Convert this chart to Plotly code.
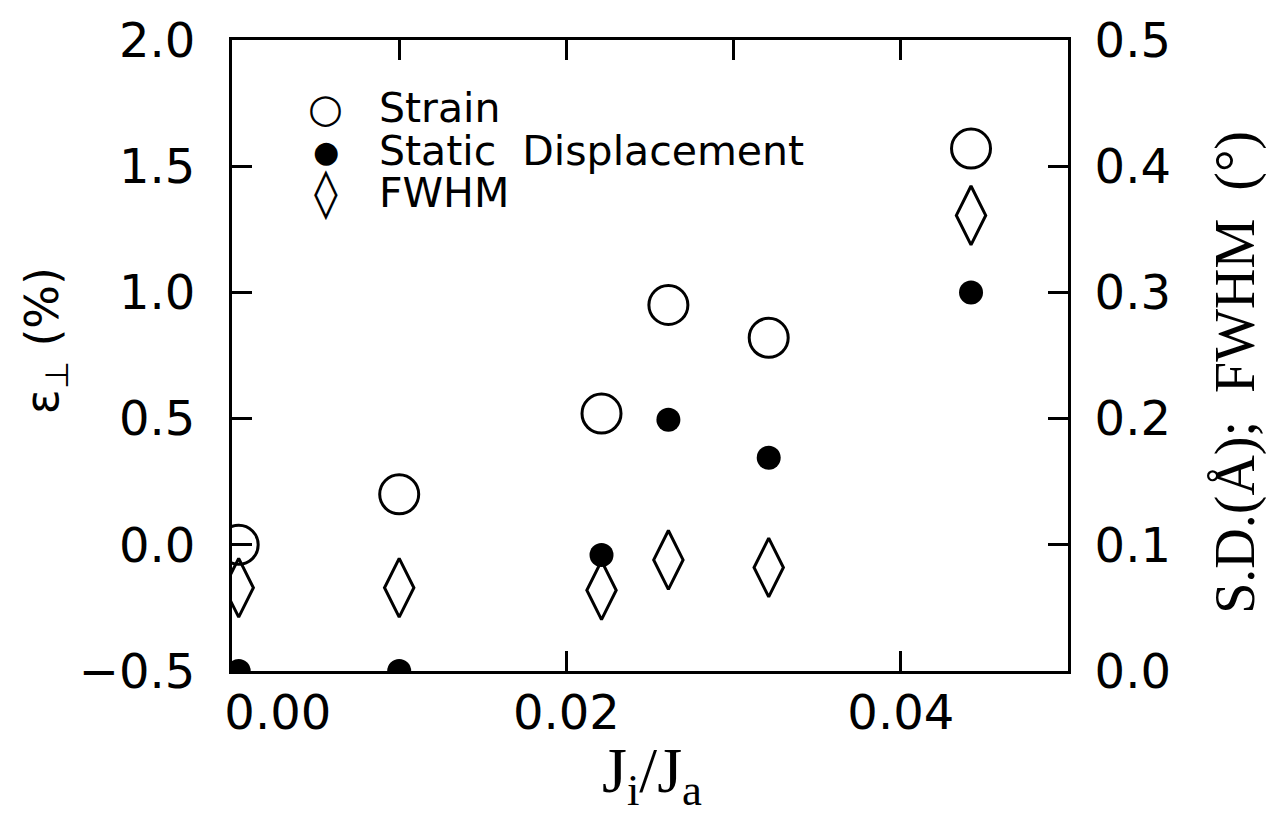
import plotly.graph_objects as go

# ---- data ----
ratio = [0.0004, 0.0100, 0.0221, 0.0261, 0.0321, 0.0442]          # J_i / J_a
strain = [0.00, 0.20, 0.52, 0.95, 0.82, 1.57]                      # epsilon_perp (%), left axis
static_disp = [0.000, 0.000, 0.092, 0.199, 0.169, 0.300]           # S.D. (Å), right axis
fwhm = [0.066, 0.066, 0.064, 0.088, 0.082, 0.361]                  # FWHM (deg), right axis

x_tickvals = [0.00, 0.02, 0.04]
x_ticktext = ["\u00a0\u00a0\u00a0\u00a0\u00a0\u00a00.00", "0.02", "0.04"]
y_left_tickvals = [-0.5, 0.0, 0.5, 1.0, 1.5, 2.0]
y_left_ticktext = ["\u22120.5", "0.0", "0.5", "1.0", "1.5", "2.0"]
y_right_tickvals = [0.0, 0.1, 0.2, 0.3, 0.4, 0.5]
y_right_ticktext = ["0.0", "0.1", "0.2", "0.3", "0.4", "0.5"]

legend_symbols = ["\u25CB", "\u25CF", "\u25CA"]
legend_symbol_sizes = [40, 30, 48]
legend_labels = ["Strain", "Static  Displacement", "FWHM"]

SANS = "DejaVu Sans"
SERIF = "Liberation Serif"
BLACK = "black"

fig = go.Figure()

fig.add_trace(go.Scatter(
    x=ratio, y=strain, mode="markers", name="Strain",
    marker=dict(symbol="circle-open", size=39, color=BLACK, line=dict(width=3, color=BLACK)),
    xaxis="x", yaxis="y", showlegend=False,
))
fig.add_trace(go.Scatter(
    x=ratio, y=static_disp, mode="markers", name="Static Displacement",
    marker=dict(symbol="circle", size=24, color=BLACK, line=dict(width=0)),
    xaxis="x", yaxis="y2", showlegend=False,
))
fig.add_trace(go.Scatter(
    x=ratio, y=fwhm, mode="markers", name="FWHM",
    marker=dict(symbol="diamond-tall-open", size=42, color=BLACK, line=dict(width=3, color=BLACK)),
    xaxis="x", yaxis="y2", showlegend=False,
))

axis_common = dict(
    showgrid=False, zeroline=False, showline=True, linecolor=BLACK, linewidth=3,
    ticks="inside", ticklen=20, tickwidth=3, tickcolor=BLACK,
)

fig.update_layout(
    width=1266, height=814,
    margin=dict(l=232, r=198, t=34, b=143),
    paper_bgcolor="white", plot_bgcolor="white",
    showlegend=False,
    xaxis=dict(
        range=[0.0, 0.05], tickvals=x_tickvals, ticktext=x_ticktext,
        tickfont=dict(family=SANS, size=48, color=BLACK), ticklabelstandoff=-3,
        **axis_common,
    ),
    xaxis2=dict(
        range=[0.0, 0.05], overlaying="x", side="top", dtick=0.01, tick0=0,
        showticklabels=False, matches="x",
        **axis_common,
    ),
    yaxis=dict(
        range=[-0.5, 2.0], tickvals=y_left_tickvals, ticktext=y_left_ticktext,
        tickfont=dict(family=SANS, size=48, color=BLACK), ticklabelstandoff=24,
        **axis_common,
    ),
    yaxis2=dict(
        range=[0.0, 0.5], overlaying="y", side="right",
        tickvals=y_right_tickvals, ticktext=y_right_ticktext,
        tickfont=dict(family=SANS, size=48, color=BLACK), ticklabelstandoff=14,
        **axis_common,
    ),
)

# dummy trace to activate top axis
fig.add_trace(go.Scatter(x=[None], y=[None], xaxis="x2", yaxis="y", showlegend=False, hoverinfo="skip"))

# legend (inside plot, top-left)
leg_y = [0.893, 0.824, 0.758]
for sym, ssz, lab, yy in zip(legend_symbols, legend_symbol_sizes, legend_labels, leg_y):
    fig.add_annotation(xref="paper", yref="paper", x=0.1124, y=yy, text=sym,
                       showarrow=False, xanchor="center", yanchor="middle",
                       font=dict(family=SANS, size=ssz, color=BLACK))
    fig.add_annotation(xref="paper", yref="paper", x=0.1734, y=yy, text=lab,
                       showarrow=False, xanchor="left", yanchor="middle",
                       font=dict(family=SANS, size=41, color=BLACK))

# axis titles
fig.add_annotation(xref="paper", yref="paper", x=(652 - 232) / 836, y=-(776 - 671) / 637,
                   text="J<sub>i</sub>/J<sub>a</sub>", showarrow=False,
                   xanchor="center", yanchor="middle",
                   font=dict(family=SERIF, size=64, color=BLACK))
fig.add_annotation(xref="paper", yref="paper", x=-(232 - 45) / 836, y=(671 - 338) / 637,
                   text="\u03b5<sub>\u22a5</sub> (%)", showarrow=False, textangle=-90,
                   xanchor="center", yanchor="middle",
                   font=dict(family=SANS, size=46, color=BLACK))
fig.add_annotation(xref="paper", yref="paper", x=1 + (1236 - 1068) / 836, y=(671 - 370) / 637,
                   text="S.D.(\u00c5);  FWHM  (\u00b0)", showarrow=False, textangle=-90,
                   xanchor="center", yanchor="middle",
                   font=dict(family=SERIF, size=56, color=BLACK))

fig.write_html("out.html")
